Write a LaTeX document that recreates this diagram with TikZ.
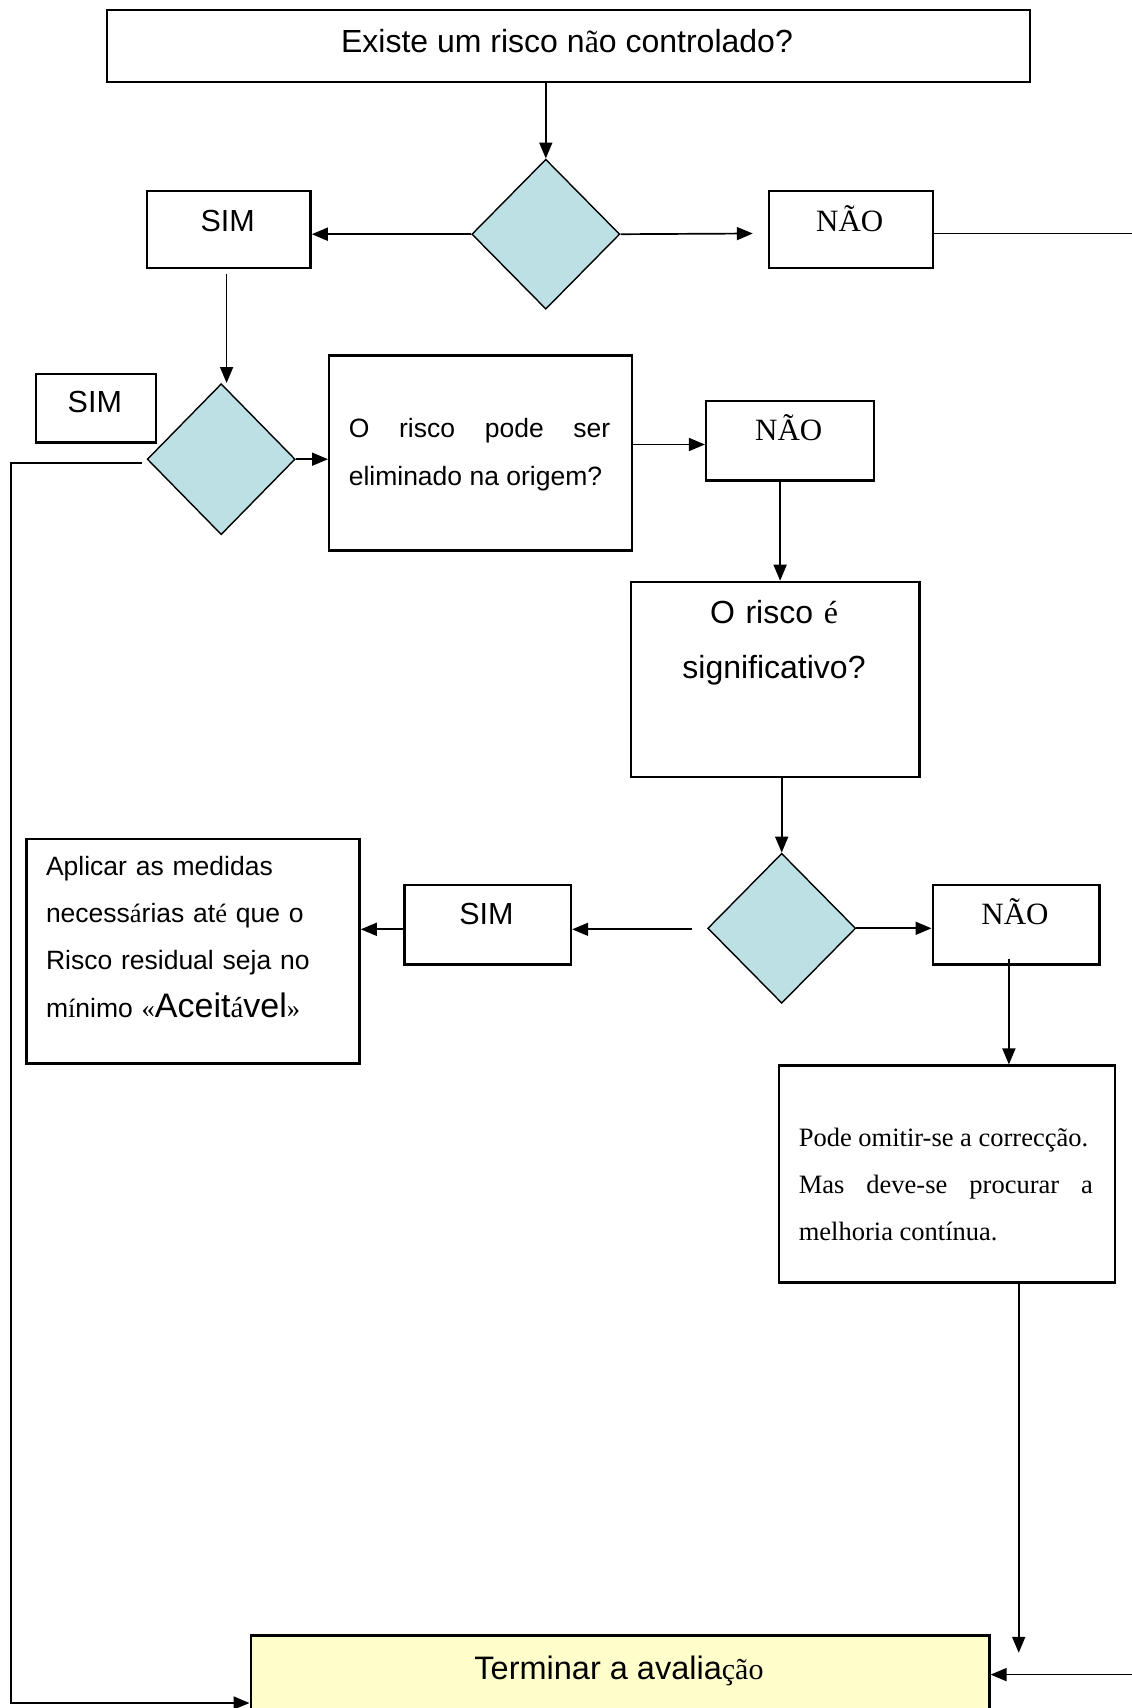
\documentclass[tikz,border=0pt]{standalone}
\usepackage{fontspec}
\setmainfont{Liberation Sans}
\newfontfamily\tms{Liberation Serif}
\usetikzlibrary{arrows.meta,shapes.geometric}
\definecolor{dfill}{HTML}{BCE0E3}
\definecolor{yfill}{HTML}{FFFFCC}
\tikzset{
  box/.style={draw, line width=2.4pt, rectangle, inner sep=0pt, anchor=north west},
  dec/.style={draw, line width=1.4pt, diamond, fill=dfill, inner sep=0pt, minimum width=148pt, minimum height=150pt},
  conn/.style={line width=1.7pt},
  arr/.style={conn, -{Triangle[length=16pt,width=13pt]}},
  lbl/.style={inner sep=0pt, anchor=base},
  big/.style={font=\fontsize{30.5}{36}\selectfont},
  serifbig/.style={font=\tms\fontsize{31}{36}\selectfont},
}
\begin{document}
\begin{tikzpicture}[x=1pt,y=-1pt]
\clip (0,0) rectangle (1132,1708);
\fill[white] (0,0) rectangle (1132,1708);

% boxes and decisions
\node[box, minimum width=922.8pt, minimum height=71.9pt] (top) at (105.7,8.7) {};
\node[lbl, font=\fontsize{32}{36}\selectfont] (topT) at (567,52) {Existe um risco n{\tms ã}o controlado?};

\node[dec] (d1) at (545.8,234.2) {};
\node[box, minimum width=163.4pt, minimum height=77.3pt] (sim1) at (146,189.6) {};
\node[lbl, big] (sim1T) at (227.7,231) {SIM};
\node[box, minimum width=163.5pt, minimum height=77.3pt] (nao1) at (768,189.6) {};
\node[lbl, serifbig] (nao1T) at (849.8,231) {NÃO};

\node[box, minimum width=119.8pt, minimum height=68.6pt] (sim2) at (34.9,372.6) {};
\node[lbl, big] (sim2T) at (94.8,412) {SIM};
\node[dec, minimum height=151pt] (d2) at (221.2,459.2) {};
\node[box, minimum width=302.8pt, minimum height=195pt] (b2) at (328,354.1) {};
\node[inner sep=0pt, anchor=base west, text width=261.5pt, align=justify,
      font=\fontsize{26.5}{48}\selectfont] (b2T) at (348.6,437)
      {\hyphenpenalty=10000 O risco pode ser\linebreak eliminado na origem?};
\node[box, minimum width=167.8pt, minimum height=79.6pt] (nao2) at (704.9,399.8) {};
\node[lbl, serifbig] (nao2T) at (788.8,440) {NÃO};

\node[box, minimum width=288.7pt, minimum height=195pt] (b3) at (629.7,580.7) {};
\node[inner sep=0pt, anchor=base, text width=288pt, align=center,
      font=\fontsize{32}{55}\selectfont] (b3T) at (774,623)
      {O risco {\tms é}\\significativo?};

\node[dec] (d3) at (781.7,928.3) {};
\node[box, minimum width=166.7pt, minimum height=79.5pt] (sim3) at (403.1,883.6) {};
\node[lbl, big] (sim3T) at (486.5,924) {SIM};
\node[box, minimum width=166.7pt, minimum height=79.5pt] (nao3) at (931.5,883.6) {};
\node[lbl, serifbig] (nao3T) at (1015,924) {NÃO};

\node[box, minimum width=333.3pt, minimum height=224.5pt] (ap) at (25.1,837.8) {};
\node[inner sep=0pt, anchor=base west, text width=310pt, align=left,
      font=\fontsize{26.5}{47.4}\selectfont] (apT) at (45.8,875)
      {Aplicar as medidas\\necess{\tms á}rias at{\tms é} que o\\Risco residual seja no\\m{\tms í}nimo {\tms «}{\fontsize{34}{47.4}\selectfont Aceit{\tms\fontsize{29}{47.4}\selectfont á}vel}{\tms »}};

\node[box, minimum width=335.6pt, minimum height=216.9pt] (b4) at (777.9,1064.4) {};
\node[inner sep=0pt, anchor=base west, text width=294.2pt, align=justify,
      font=\tms\fontsize{26.5}{47}\selectfont] (b4T) at (798.6,1146)
      {\hyphenpenalty=10000 Pode omitir-se a correcção.\\Mas deve-se procurar a\linebreak melhoria contínua.};

\node[box, fill=yfill, minimum width=738.7pt, minimum height=120pt] (fim) at (249.5,1634.3) {};
\node[lbl, font=\fontsize{32.5}{36}\selectfont] (fimT) at (619,1679) {Terminar a avalia{\tms\fontsize{30}{36}\selectfont ção}};

% connectors
\coordinate (c1) at (752.8,233.5);
\coordinate (e1) at (1132,233.5);
\coordinate (s1) at (226.6,273.5);
\coordinate (c2) at (0,444.5);
\coordinate (n2) at (780.1,479.4);
\coordinate (c3) at (691.8,929.3);
\coordinate (n3) at (1008.9,958.8);
\coordinate (c4) at (1018.7,1652.8);
\coordinate (e2) at (1132,1674.6);
\coordinate (l1) at (141.6,463);
\coordinate (l2) at (10.9,1703);

\draw[arr] (d1.north |- top.south) -- (d1.north);
\draw[arr] (d1.west) -- (d1.west -| sim1.east);
\draw[arr] (d1.east) -- (c1);
\draw[conn] (nao1.east |- e1) -- (e1);
\draw[arr] (s1) -- (s1 |- d2.north);
\draw[arr] (d2.east) -- (d2.east -| b2.west);
\draw[arr] (b2.east |- c2) -- (nao2.west |- c2);
\draw[arr] (n2) -- (n2 |- b3.north);
\draw[arr] (d3.north |- b3.south) -- (d3.north);
\draw[arr] (c3) -- (c3 -| sim3.east);
\draw[arr] (sim3.west |- c3) -- (ap.east |- c3);
\draw[arr] (d3.east) -- (d3.east -| nao3.west);
\draw[arr] (n3) -- (n3 |- b4.north);
\draw[arr] (c4 |- b4.south) -- (c4);
\draw[arr] (e2) -- (e2 -| fim.east);
\draw[arr] (l1) -| (l2) -- (l2 -| fim.west);
\end{tikzpicture}
\end{document}
